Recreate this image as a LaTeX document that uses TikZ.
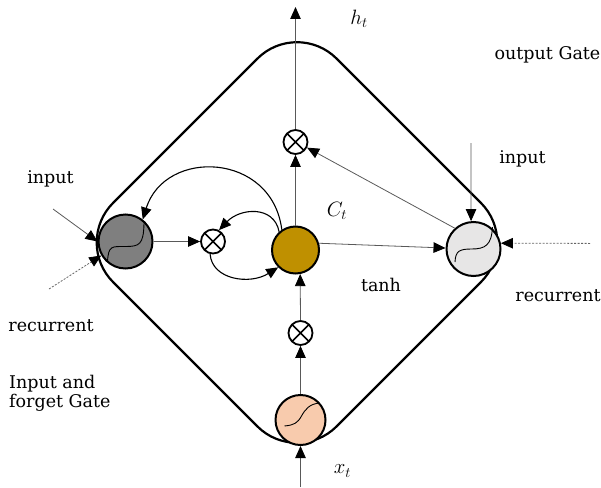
\documentclass[tikz,border=0pt]{standalone}
\usepackage{fontspec}
\setmainfont{DejaVu Serif}
\usetikzlibrary{arrows.meta}
\definecolor{gateA}{HTML}{7F7F7F}
\definecolor{goldC}{HTML}{BF9000}
\definecolor{gateO}{HTML}{E7E6E6}
\definecolor{gateI}{HTML}{F8CBAD}
\begin{document}
\begin{tikzpicture}[x=1pt,y=-1pt,
  gate/.style={circle,draw=black,line width=2pt,inner sep=0pt,minimum size=54pt},
  mult/.style={circle,draw=black,line width=1.8pt,inner sep=0pt,minimum size=24pt,fill=white,
    path picture={\draw[line width=1.7pt] (path picture bounding box.north west) -- (path picture bounding box.south east)
      (path picture bounding box.north east) -- (path picture bounding box.south west);}},
  sig/.style={line width=0.9pt,black},
  tip/.style={-{Triangle[length=12pt,width=10.5pt,color=black]}},
  thinarrow/.style={tip,draw=black!65,line width=0.8pt},
  dotarrow/.style={tip,draw=black!60,line width=0.8pt,dash pattern=on 2pt off 1.5pt},
  curvearrow/.style={tip,draw=black,line width=1.1pt},
  lbl/.style={font=\fontsize{17.5}{19}\selectfont,inner sep=0pt},
  mlbl/.style={font=\fontsize{21}{22}\selectfont,inner sep=0pt}]
\useasboundingbox (0,0) rectangle (601,487);

% rounded diamond
\draw[line width=2.2pt,rounded corners=56pt] (408.75,130.75) -- (520.5,242.5) -- (297,466) -- (73.5,242.5) -- (297,19) -- cycle;

% gates and operators
\node[gate,fill=gateA] (gL) at (125.5,241.5) {};
\node[gate,fill=gateO] (gR) at (473.5,249) {};
\node[gate,fill=gateI,minimum size=50pt] (gB) at (300.5,420) {};
\node[circle,draw=black,line width=2pt,inner sep=0pt,minimum size=47pt,fill=goldC] (cT) at (295.5,250) {};
\node[mult] (mL) at (213,241.5) {};
\node[mult] (mT) at (295.5,142) {};
\node[mult] (mB) at (300.5,333) {};

% sigmoid curves
\draw[sig,shift={(125.5,241.5)}] (-18,20) .. controls (-17,4) and (-14,5) .. (0,5) .. controls (14,5) and (18,3) .. (18.5,-18);
\draw[sig,shift={(473.5,249)}] (-18.5,13) .. controls (-18,2) and (-14,0) .. (-2,0) .. controls (12,0) and (18,-4) .. (19,-22);
\draw[sig,shift={(300.5,420)}] (-16,6) .. controls (-6,5) and (-3,3) .. (1,-4) .. controls (5,-11) and (9,-16) .. (19,-17);

% free ends
\coordinate (hT) at (295.5,7);
\coordinate (xT) at (300.5,487);
\coordinate (inL) at (53,209);
\coordinate (recL) at (49,289);
\coordinate (inR) at (471,143);
\coordinate (recR) at (590,243.4);

% straight connectors
\draw[thinarrow] (mT.north) -- (hT);
\draw[thinarrow] (cT.north) -- (mT.south);
\draw[thinarrow] (gR.132) -- (mT.-26);
\draw[thinarrow] (cT.16) -- (gR.178);
\draw[thinarrow] (gL.east) -- (mL.west);
\draw[thinarrow] (gB.north) -- (mB.south);
\draw[thinarrow] (mB.north) -- (cT.-79);
\draw[thinarrow] (xT) -- (gB.south);
\draw[thinarrow] (inL) -- (gL.180);
\draw[dotarrow] (recL) -- (gL.210);
\draw[thinarrow] (inR) -- (gR.95);
\draw[dotarrow] (recR) -- (gR.12);

% curved connectors
\draw[curvearrow] (mL.-103) .. controls (212,280) and (250,285) .. (cT.225);
\draw[curvearrow] (cT.132) .. controls (274,205) and (240,208) .. (mL.62);
\draw[curvearrow] (cT.124) .. controls (272,152) and (165,148) .. (gL.52);

% labels
\node[lbl,anchor=base] (tInL) at (50.5,183) {input};
\node[lbl,anchor=base] (tRecL) at (51,331.5) {recurrent};
\node[lbl,anchor=base west,align=left] (tIFG) at (9,407) {Input and\\forget Gate};
\node[mlbl] (tH) at (359,19) {$h_t$};
\node[lbl,anchor=base] (tOG) at (547.5,59.5) {output Gate};
\node[lbl,anchor=base] (tInR) at (522.5,163.5) {input};
\node[mlbl] (tC) at (337,211) {$C_t$};
\node[lbl,anchor=base] (tTanh) at (381,291.5) {tanh};
\node[lbl,anchor=base] (tRecR) at (558,301.5) {recurrent};
\node[mlbl] (tX) at (342.5,471) {$x_t$};
\end{tikzpicture}
\end{document}
